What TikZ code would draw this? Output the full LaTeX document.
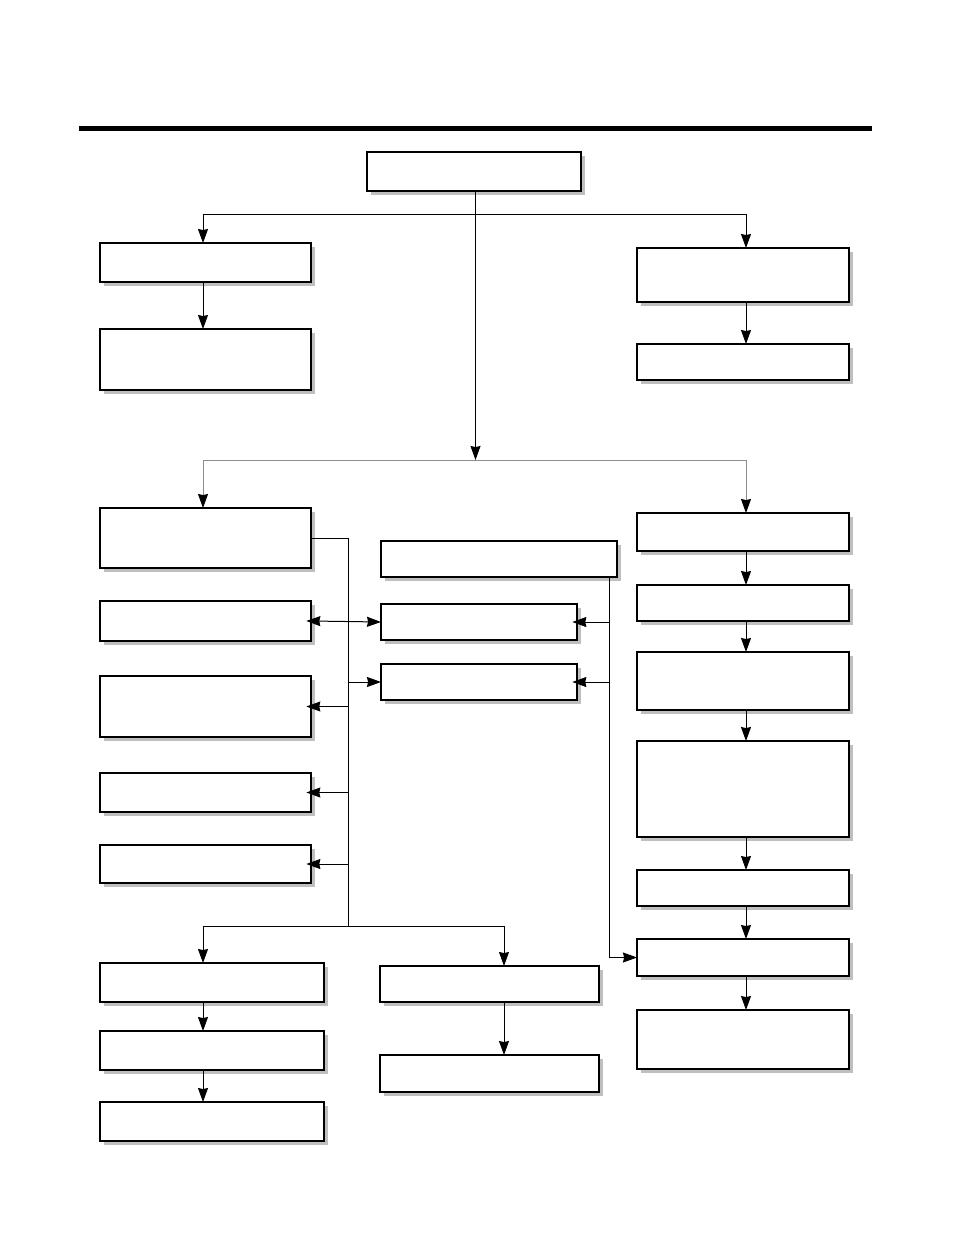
\documentclass[tikz,border=0pt]{standalone}
\usetikzlibrary{arrows.meta,shadows,calc}
\tikzset{
  box/.style={draw, fill=white, rectangle, inner sep=0pt, outer sep=0pt, line width=0.8pt,
    drop shadow={shadow xshift=3pt, shadow yshift=-3pt, fill=black!25, opacity=1}},
  bbox/.style={box, line width=1.7pt},
  conn/.style={line width=0.75pt},
  arr/.style={conn, -{Stealth[length=10.5pt, width=7.5pt, inset=0.8pt]}},
  darr/.style={conn, {Stealth[length=10.5pt, width=7.5pt, inset=0.8pt]}-{Stealth[length=10.5pt, width=7.5pt, inset=0.8pt]}},
  garr/.style={line width=0.75pt, draw=black!45, -{Stealth[length=10.5pt, width=7.5pt, inset=0.8pt, color=black]}},
}
\newcommand\bx[6]{\node[#6, minimum width={(#4-#2)*0.75pt}, minimum height={(#5-#3)*0.75pt}] (#1) at ({(#2+#4)/2},{(#3+#5)/2}) {};}
\begin{document}
\begin{tikzpicture}[x=0.75pt, y=-0.75pt]
\useasboundingbox (0,0) rectangle (954,1242);
% top rule
\fill (79,126) rectangle (872,131);
% boxes
\bx{top}{367}{152}{581}{191}{box}
\bx{A}{100}{243}{311}{282}{box}
\bx{B}{100}{329}{311}{390}{box}
\bx{C}{637}{248}{849}{302}{bbox}
\bx{D}{637}{344}{849}{380}{box}
\bx{E}{100}{508}{311}{568}{bbox}
\bx{F}{100}{601}{311}{641}{box}
\bx{G}{100}{676}{311}{737}{bbox}
\bx{H}{100}{773}{311}{812}{bbox}
\bx{I}{100}{845}{311}{883}{box}
\bx{hdr}{381}{541}{617}{577}{bbox}
\bx{M1}{381}{604}{577}{640}{box}
\bx{M2}{381}{664}{577}{700}{bbox}
\bx{J}{100}{963}{324}{1002}{box}
\bx{K}{100}{1031}{324}{1070}{bbox}
\bx{K2}{100}{1102}{324}{1141}{box}
\bx{L}{380}{966}{599}{1002}{box}
\bx{L2}{380}{1055}{599}{1092}{bbox}
\bx{R1}{637}{513}{849}{551}{box}
\bx{R2}{637}{585}{849}{621}{box}
\bx{R3}{637}{652}{849}{710}{bbox}
\bx{R4}{637}{741}{849}{837}{box}
\bx{R5}{637}{870}{849}{906}{box}
\bx{R6}{637}{939}{849}{976}{bbox}
\bx{R7}{637}{1010}{849}{1069}{box}
% helper coordinates
\coordinate (xL) at (203,0);
\coordinate (xR) at (746,0);
\coordinate (xM) at (504,0);
\coordinate (xC) at (475.5,0);
\coordinate (j1) at (475.5,214);
\coordinate (j2) at (475.5,460);
\coordinate (bL) at (348,538);
\coordinate (bB) at (348,926);
\coordinate (bR) at (609.5,577);
% top level
\draw[conn] (xC |- top.south) -- (j1);
\draw[arr] (j1) -| (xL |- A.north);
\draw[arr] (j1) -| (xR |- C.north);
\draw[arr] (j1) -- (j2);
\draw[arr] (xL |- A.south) -- (xL |- B.north);
\draw[arr] (xR |- C.south) -- (xR |- D.north);
% second level (grey)
\draw[garr] (j2) -| (xL |- E.north);
\draw[garr] (j2) -| (xR |- R1.north);
% left bus
\draw[conn] (E.east |- bL) -- (bL) -- (bB);
\draw[darr, shorten <=-3.5pt] (F.east) -- (M1.west);
\draw[arr] (bL |- M2.west) -- (M2.west);
\draw[arr, shorten >=-3.5pt] (bL |- G.east) -- (G.east);
\draw[arr, shorten >=-3.5pt] (bL |- H.east) -- (H.east);
\draw[arr, shorten >=-3.5pt] (bL |- I.east) -- (I.east);
% bottom branches
\draw[arr] (bB) -| (xL |- J.north);
\draw[arr] (bB) -| (xM |- L.north);
\draw[arr] (xL |- J.south) -- (xL |- K.north);
\draw[arr] (xL |- K.south) -- (xL |- K2.north);
\draw[arr] (xM |- L.south) -- (xM |- L2.north);
% right bus
\draw[conn] (bR) -- (bR |- R6.west);
\draw[arr] (bR |- R6.west) -- (R6.west);
\draw[arr, shorten >=-3.5pt] (bR |- M1.east) -- (M1.east);
\draw[arr, shorten >=-3.5pt] (bR |- M2.east) -- (M2.east);
% right column
\draw[arr] (xR |- R1.south) -- (xR |- R2.north);
\draw[arr] (xR |- R2.south) -- (xR |- R3.north);
\draw[arr] (xR |- R3.south) -- (xR |- R4.north);
\draw[arr] (xR |- R4.south) -- (xR |- R5.north);
\draw[arr] (xR |- R5.south) -- (xR |- R6.north);
\draw[arr] (xR |- R6.south) -- (xR |- R7.north);
\end{tikzpicture}
\end{document}
